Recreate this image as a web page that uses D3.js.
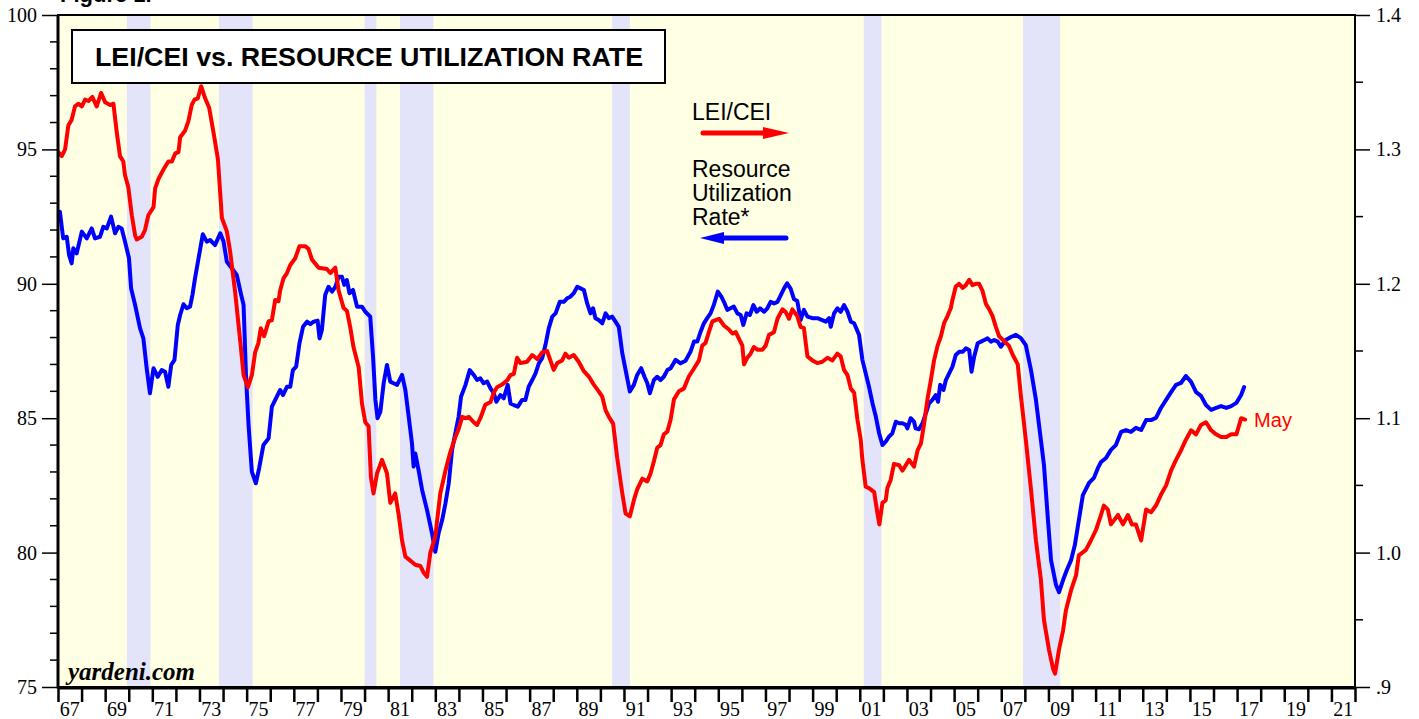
<!DOCTYPE html>
<html><head><meta charset="utf-8">
<script src="https://cdn.jsdelivr.net/npm/d3@7"></script>
<style>html,body{margin:0;padding:0;background:#fff;}svg{display:block;}</style>
</head><body>
<script>
// ---------- DATA ----------
const titleText = "LEI/CEI vs. RESOURCE UTILIZATION RATE";
const yearDomain = [1967, 2022];
const yearLabels = ["67","69","71","73","75","77","79","81","83","85","87","89","91","93","95","97","99","01","03","05","07","09","11","13","15","17","19","21"];
const leftTicks = [75, 80, 85, 90, 95, 100];
const rightTicks = [0.9, 1.0, 1.1, 1.2, 1.3, 1.4];
const rightTickLabels = [".9", "1.0", "1.1", "1.2", "1.3", "1.4"];
const recessions = [[1969.92,1970.92],[1973.83,1975.25],[1980.0,1980.5],[1981.5,1982.92],[1990.5,1991.25],[2001.17,2001.92],[2007.92,2009.5]];

// LEI/CEI ratio (right axis)
const leiSeries = [[1967.01,1.298],[1967.16,1.295],[1967.30,1.300],[1967.44,1.318],[1967.58,1.322],[1967.72,1.332],[1967.86,1.334],[1968.01,1.332],[1968.15,1.337],[1968.29,1.336],[1968.46,1.339],[1968.64,1.332],[1968.83,1.342],[1969.00,1.335],[1969.21,1.333],[1969.35,1.334],[1969.49,1.313],[1969.63,1.295],[1969.77,1.291],[1969.84,1.281],[1969.98,1.272],[1970.13,1.251],[1970.27,1.236],[1970.34,1.233],[1970.55,1.235],[1970.69,1.240],[1970.83,1.251],[1971.05,1.257],[1971.12,1.271],[1971.26,1.278],[1971.47,1.285],[1971.68,1.291],[1971.83,1.291],[1971.97,1.297],[1972.11,1.298],[1972.18,1.309],[1972.39,1.314],[1972.53,1.321],[1972.67,1.333],[1972.79,1.337],[1972.93,1.338],[1973.07,1.347],[1973.24,1.338],[1973.41,1.331],[1973.59,1.313],[1973.78,1.293],[1973.95,1.249],[1974.16,1.239],[1974.30,1.224],[1974.51,1.194],[1974.73,1.157],[1974.87,1.132],[1975.05,1.123],[1975.22,1.132],[1975.36,1.149],[1975.50,1.156],[1975.60,1.167],[1975.74,1.161],[1975.93,1.172],[1976.07,1.173],[1976.21,1.188],[1976.35,1.187],[1976.42,1.195],[1976.56,1.204],[1976.71,1.208],[1976.85,1.214],[1977.06,1.219],[1977.24,1.228],[1977.48,1.228],[1977.62,1.226],[1977.77,1.218],[1977.91,1.215],[1978.05,1.212],[1978.40,1.211],[1978.55,1.208],[1978.76,1.212],[1978.90,1.195],[1979.11,1.182],[1979.25,1.180],[1979.39,1.168],[1979.53,1.153],[1979.75,1.138],[1979.89,1.111],[1980.03,1.097],[1980.17,1.094],[1980.27,1.056],[1980.38,1.044],[1980.53,1.059],[1980.74,1.069],[1980.95,1.059],[1981.09,1.037],[1981.30,1.044],[1981.44,1.029],[1981.59,1.009],[1981.73,0.997],[1981.94,0.994],[1982.15,0.991],[1982.37,0.990],[1982.51,0.985],[1982.65,0.982],[1982.79,1.000],[1983.00,1.012],[1983.21,1.044],[1983.43,1.061],[1983.64,1.075],[1983.85,1.086],[1983.99,1.092],[1984.14,1.101],[1984.28,1.100],[1984.42,1.101],[1984.63,1.097],[1984.77,1.095],[1984.91,1.100],[1985.12,1.110],[1985.34,1.112],[1985.48,1.119],[1985.62,1.123],[1985.83,1.125],[1986.04,1.128],[1986.19,1.132],[1986.33,1.133],[1986.47,1.145],[1986.61,1.141],[1986.89,1.142],[1987.11,1.147],[1987.32,1.144],[1987.53,1.149],[1987.74,1.150],[1987.88,1.143],[1988.02,1.136],[1988.17,1.141],[1988.38,1.143],[1988.52,1.148],[1988.66,1.145],[1988.87,1.147],[1989.08,1.142],[1989.30,1.135],[1989.51,1.131],[1989.72,1.125],[1989.93,1.120],[1990.08,1.116],[1990.22,1.106],[1990.36,1.101],[1990.54,1.096],[1990.71,1.071],[1990.93,1.044],[1991.07,1.029],[1991.25,1.027],[1991.42,1.039],[1991.56,1.047],[1991.78,1.055],[1991.99,1.053],[1992.13,1.059],[1992.27,1.068],[1992.41,1.078],[1992.55,1.080],[1992.69,1.088],[1992.84,1.090],[1992.98,1.099],[1993.12,1.114],[1993.33,1.120],[1993.54,1.122],[1993.75,1.131],[1993.97,1.137],[1994.18,1.143],[1994.32,1.154],[1994.46,1.156],[1994.60,1.164],[1994.75,1.172],[1994.89,1.173],[1995.03,1.174],[1995.24,1.169],[1995.45,1.166],[1995.60,1.163],[1995.74,1.164],[1995.88,1.159],[1996.02,1.154],[1996.09,1.140],[1996.23,1.145],[1996.37,1.148],[1996.51,1.153],[1996.66,1.151],[1996.87,1.151],[1997.01,1.154],[1997.15,1.162],[1997.36,1.164],[1997.51,1.174],[1997.72,1.181],[1997.86,1.179],[1998.00,1.174],[1998.14,1.181],[1998.35,1.176],[1998.49,1.168],[1998.63,1.167],[1998.78,1.146],[1998.99,1.143],[1999.20,1.141],[1999.41,1.142],[1999.63,1.145],[1999.84,1.143],[2000.05,1.148],[2000.19,1.146],[2000.33,1.136],[2000.48,1.132],[2000.62,1.122],[2000.76,1.119],[2000.90,1.099],[2001.04,1.084],[2001.11,1.069],[2001.25,1.049],[2001.39,1.048],[2001.61,1.045],[2001.75,1.029],[2001.83,1.021],[2001.96,1.037],[2002.10,1.039],[2002.17,1.048],[2002.31,1.054],[2002.45,1.066],[2002.67,1.065],[2002.81,1.061],[2002.95,1.065],[2003.09,1.069],[2003.30,1.064],[2003.45,1.076],[2003.59,1.081],[2003.73,1.096],[2003.87,1.114],[2004.01,1.128],[2004.15,1.143],[2004.30,1.154],[2004.44,1.161],[2004.58,1.171],[2004.72,1.176],[2004.86,1.182],[2004.93,1.188],[2005.07,1.198],[2005.21,1.200],[2005.36,1.197],[2005.50,1.199],[2005.64,1.203],[2005.78,1.199],[2005.92,1.200],[2006.06,1.200],[2006.20,1.195],[2006.35,1.185],[2006.49,1.181],[2006.63,1.176],[2006.77,1.168],[2006.91,1.161],[2007.32,1.154],[2007.49,1.147],[2007.70,1.140],[2007.83,1.117],[2008.04,1.084],[2008.26,1.047],[2008.47,1.009],[2008.68,0.980],[2008.81,0.950],[2009.02,0.928],[2009.19,0.914],[2009.28,0.910],[2009.45,0.928],[2009.62,0.942],[2009.74,0.957],[2009.96,0.972],[2010.17,0.983],[2010.29,0.998],[2010.59,1.002],[2010.80,1.009],[2011.02,1.017],[2011.23,1.028],[2011.35,1.035],[2011.52,1.032],[2011.65,1.021],[2011.78,1.024],[2011.95,1.028],[2012.16,1.021],[2012.37,1.028],[2012.54,1.021],[2012.71,1.021],[2012.93,1.009],[2013.14,1.032],[2013.35,1.030],[2013.56,1.035],[2013.77,1.043],[2013.99,1.050],[2014.20,1.061],[2014.41,1.069],[2014.62,1.076],[2014.83,1.084],[2015.05,1.091],[2015.26,1.088],[2015.47,1.095],[2015.68,1.097],[2015.90,1.091],[2016.11,1.088],[2016.32,1.086],[2016.54,1.086],[2016.75,1.088],[2016.97,1.088],[2017.09,1.095],[2017.17,1.100],[2017.34,1.099]];

// Resource utilization rate (left axis)
const rurSeries = [[1967.08,92.68],[1967.22,91.69],[1967.37,91.75],[1967.47,91.07],[1967.58,90.76],[1967.65,91.32],[1967.79,91.13],[1968.01,91.94],[1968.22,91.69],[1968.43,92.06],[1968.57,91.69],[1968.78,91.75],[1968.92,92.12],[1969.07,92.06],[1969.25,92.50],[1969.42,91.88],[1969.56,92.12],[1969.70,92.06],[1969.84,91.57],[1970.01,90.95],[1970.10,89.83],[1970.27,89.21],[1970.48,88.34],[1970.62,87.97],[1970.76,86.86],[1970.90,85.93],[1971.05,86.86],[1971.23,86.54],[1971.40,86.79],[1971.54,86.73],[1971.68,86.17],[1971.80,86.98],[1971.94,87.17],[1972.08,88.47],[1972.18,88.84],[1972.32,89.24],[1972.46,89.09],[1972.60,89.15],[1972.70,89.58],[1972.81,90.20],[1972.96,90.95],[1973.14,91.84],[1973.31,91.57],[1973.45,91.63],[1973.66,91.44],[1973.88,91.88],[1974.02,91.57],[1974.16,90.82],[1974.37,90.58],[1974.58,90.33],[1974.77,89.58],[1974.87,89.21],[1974.97,86.61],[1975.08,84.75],[1975.22,83.01],[1975.39,82.58],[1975.53,83.14],[1975.71,84.00],[1975.93,84.25],[1976.07,85.43],[1976.28,85.80],[1976.42,86.05],[1976.54,85.86],[1976.71,86.17],[1976.85,86.17],[1976.96,86.79],[1977.10,86.92],[1977.24,87.79],[1977.39,88.40],[1977.56,88.59],[1977.70,88.50],[1977.84,88.59],[1978.01,88.63],[1978.09,87.97],[1978.19,88.28],[1978.33,89.58],[1978.47,89.89],[1978.62,89.71],[1978.76,89.89],[1978.90,90.26],[1979.04,90.26],[1979.14,89.96],[1979.25,90.14],[1979.36,89.65],[1979.51,89.77],[1979.68,89.15],[1979.89,89.15],[1980.03,88.96],[1980.24,88.78],[1980.36,87.29],[1980.46,85.68],[1980.55,85.00],[1980.67,85.24],[1980.81,86.30],[1980.95,86.98],[1981.09,86.36],[1981.23,86.30],[1981.38,86.24],[1981.59,86.61],[1981.73,86.05],[1981.87,85.06],[1982.01,84.07],[1982.08,83.20],[1982.15,83.69],[1982.29,83.07],[1982.44,82.33],[1982.65,81.58],[1982.86,80.72],[1983.00,80.03],[1983.14,80.72],[1983.29,81.21],[1983.43,81.83],[1983.57,82.58],[1983.71,83.82],[1983.85,84.44],[1983.99,85.06],[1984.09,85.80],[1984.28,86.24],[1984.46,86.79],[1984.63,86.61],[1984.77,86.42],[1984.91,86.48],[1985.05,86.30],[1985.20,86.36],[1985.34,86.11],[1985.48,85.93],[1985.59,85.61],[1985.76,85.86],[1985.90,85.74],[1986.07,86.24],[1986.19,85.55],[1986.33,85.49],[1986.50,85.43],[1986.68,85.68],[1986.82,85.68],[1986.96,86.17],[1987.11,86.42],[1987.25,86.67],[1987.39,87.04],[1987.53,87.23],[1987.67,87.72],[1987.81,88.34],[1987.96,88.78],[1988.10,88.90],[1988.28,89.33],[1988.45,89.33],[1988.59,89.46],[1988.73,89.52],[1988.87,89.65],[1989.02,89.89],[1989.16,89.83],[1989.30,89.77],[1989.44,89.27],[1989.58,88.90],[1989.69,89.09],[1989.79,88.72],[1989.93,88.65],[1990.08,88.53],[1990.22,88.90],[1990.36,88.72],[1990.50,88.78],[1990.64,88.59],[1990.78,88.40],[1990.93,87.41],[1991.07,86.79],[1991.25,85.99],[1991.42,86.24],[1991.56,86.61],[1991.73,86.86],[1991.87,86.54],[1991.99,86.30],[1992.10,85.93],[1992.27,86.42],[1992.41,86.54],[1992.55,86.42],[1992.69,86.54],[1992.84,86.79],[1992.98,86.86],[1993.19,87.17],[1993.40,87.04],[1993.61,87.14],[1993.82,87.47],[1993.97,87.85],[1994.11,87.85],[1994.25,88.22],[1994.39,88.53],[1994.53,88.72],[1994.67,88.90],[1994.81,89.21],[1994.98,89.71],[1995.13,89.52],[1995.27,89.27],[1995.38,89.03],[1995.52,89.09],[1995.66,89.15],[1995.81,88.90],[1995.95,88.84],[1996.06,88.47],[1996.20,88.90],[1996.34,88.84],[1996.49,89.21],[1996.63,88.96],[1996.77,89.09],[1996.94,88.96],[1997.08,89.09],[1997.22,89.33],[1997.36,89.27],[1997.51,89.33],[1997.65,89.58],[1997.79,89.83],[1997.92,90.02],[1998.07,89.81],[1998.21,89.43],[1998.35,89.36],[1998.49,88.65],[1998.63,89.03],[1998.78,88.78],[1998.99,88.72],[1999.20,88.72],[1999.41,88.65],[1999.56,88.59],[1999.70,88.72],[1999.77,88.40],[1999.91,88.90],[2000.05,89.09],[2000.19,88.96],[2000.33,89.21],[2000.48,88.96],[2000.62,88.59],[2000.76,88.53],[2000.97,88.10],[2001.11,87.17],[2001.25,86.67],[2001.39,86.17],[2001.54,85.55],[2001.68,85.06],[2001.82,84.44],[2001.96,84.00],[2002.10,84.13],[2002.24,84.31],[2002.38,84.44],[2002.53,84.87],[2002.67,84.81],[2002.81,84.81],[2002.95,84.75],[2003.02,84.62],[2003.16,85.00],[2003.30,84.87],[2003.37,84.62],[2003.51,84.59],[2003.66,84.81],[2003.80,85.18],[2003.94,85.55],[2004.08,85.68],[2004.22,85.86],[2004.32,85.61],[2004.41,86.24],[2004.55,86.05],[2004.65,86.42],[2004.79,86.67],[2004.93,86.92],[2005.07,87.35],[2005.21,87.47],[2005.36,87.47],[2005.50,87.60],[2005.64,87.54],[2005.74,86.73],[2005.85,87.29],[2006.00,87.79],[2006.14,87.85],[2006.28,87.91],[2006.42,87.97],[2006.56,87.85],[2006.70,87.91],[2006.85,87.85],[2006.98,87.66],[2007.19,87.91],[2007.41,88.02],[2007.62,88.10],[2007.83,87.98],[2008.04,87.72],[2008.26,86.79],[2008.47,85.68],[2008.68,84.19],[2008.81,83.26],[2008.98,81.21],[2009.11,79.72],[2009.32,78.80],[2009.45,78.53],[2009.62,78.98],[2009.78,79.35],[2009.96,79.72],[2010.12,80.28],[2010.29,81.21],[2010.46,82.14],[2010.72,82.59],[2010.93,82.78],[2011.10,83.15],[2011.23,83.37],[2011.44,83.52],[2011.65,83.82],[2011.86,84.00],[2012.08,84.49],[2012.29,84.56],[2012.50,84.49],[2012.71,84.64],[2012.93,84.56],[2013.14,84.93],[2013.35,84.93],[2013.56,85.01],[2013.77,85.38],[2013.99,85.68],[2014.20,85.97],[2014.41,86.24],[2014.62,86.31],[2014.83,86.57],[2015.05,86.35],[2015.26,85.97],[2015.47,85.83],[2015.68,85.49],[2015.90,85.31],[2016.11,85.38],[2016.32,85.45],[2016.54,85.38],[2016.75,85.45],[2016.97,85.57],[2017.17,85.86],[2017.30,86.16]];

// ---------- LAYOUT ----------
const W = 1419, H = 719;
const M = {left: 58, right: 1355, top: 15, bottom: 687};
const svg = d3.select("body").append("svg").attr("width", W).attr("height", H);
svg.append("rect").attr("width", W).attr("height", H).attr("fill", "#fff");

const x = d3.scaleLinear().domain(yearDomain).range([M.left, M.right]);
const yL = d3.scaleLinear().domain([75, 100]).range([M.bottom, M.top]);
const yR = d3.scaleLinear().domain([0.9, 1.4]).range([M.bottom, M.top]);

// background
svg.append("rect").attr("x", M.left).attr("y", M.top)
  .attr("width", M.right - M.left).attr("height", M.bottom - M.top).attr("fill", "#FFFFE3");
svg.append("g").selectAll("rect").data(recessions).join("rect")
  .attr("x", d => x(d[0])).attr("y", M.top)
  .attr("width", d => x(d[1]) - x(d[0])).attr("height", M.bottom - M.top)
  .attr("fill", "#E3E3FA");

svg.append("defs").append("clipPath").attr("id", "clip")
  .append("rect").attr("x", M.left).attr("y", M.top)
  .attr("width", M.right - M.left).attr("height", M.bottom - M.top);

// lines
const lineL = d3.line().x(d => x(d[0])).y(d => yL(d[1]));
const lineR = d3.line().x(d => x(d[0])).y(d => yR(d[1]));
const gl = svg.append("g").attr("clip-path", "url(#clip)");
gl.append("path").datum(rurSeries).attr("d", lineL).attr("fill", "none")
  .attr("stroke", "#0000FF").attr("stroke-width", 4).attr("stroke-linejoin", "round").attr("stroke-linecap", "round");
gl.append("path").datum(leiSeries).attr("d", lineR).attr("fill", "none")
  .attr("stroke", "#FF0000").attr("stroke-width", 4).attr("stroke-linejoin", "round").attr("stroke-linecap", "round");

// frame
svg.append("rect").attr("x", M.left).attr("y", M.top)
  .attr("width", M.right - M.left).attr("height", M.bottom - M.top)
  .attr("fill", "none").attr("stroke", "#000").attr("stroke-width", 2);
svg.append("line").attr("x1", M.left).attr("x2", M.left).attr("y1", M.top).attr("y2", M.bottom + 1.5)
  .attr("stroke", "#000").attr("stroke-width", 3);
svg.append("line").attr("x1", M.left).attr("x2", M.right + 1).attr("y1", M.bottom + 1).attr("y2", M.bottom + 1)
  .attr("stroke", "#000").attr("stroke-width", 3);

const serif = "'Liberation Serif', 'Times New Roman', serif";
const sans = "'Liberation Sans', Arial, Helvetica, sans-serif";

// left axis
const leftAxis = d3.axisLeft(yL).tickValues(leftTicks).tickSize(16).tickPadding(5).tickFormat(d3.format("d"));
const gL = svg.append("g").attr("transform", `translate(${M.left},0)`).call(leftAxis);
gL.select(".domain").remove();
gL.selectAll(".tick line").attr("stroke", "#000").attr("stroke-width", 1.5);
gL.selectAll(".tick text").attr("font-family", serif).attr("font-size", 20).attr("fill", "#000");
const leftMinor = d3.range(75, 101, 1).filter(v => v % 5 !== 0);
svg.append("g").selectAll("line").data(leftMinor).join("line")
  .attr("x1", M.left - 8).attr("x2", M.left).attr("y1", d => yL(d)).attr("y2", d => yL(d))
  .attr("stroke", "#000").attr("stroke-width", 1.5);

// right axis
const rightAxis = d3.axisRight(yR).tickValues(rightTicks).tickSize(15).tickPadding(6)
  .tickFormat((d, i) => rightTickLabels[i]);
const gR = svg.append("g").attr("transform", `translate(${M.right},0)`).call(rightAxis);
gR.select(".domain").remove();
gR.selectAll(".tick line").attr("stroke", "#000").attr("stroke-width", 1.5);
gR.selectAll(".tick text").attr("font-family", serif).attr("font-size", 20).attr("fill", "#000");
const rightMinor = [0.95, 1.05, 1.15, 1.25, 1.35];
svg.append("g").selectAll("line").data(rightMinor).join("line")
  .attr("x1", M.right).attr("x2", M.right + 8).attr("y1", d => yR(d)).attr("y2", d => yR(d))
  .attr("stroke", "#000").attr("stroke-width", 1.5);

// bottom axis
const yearTicks = d3.range(yearDomain[0], yearDomain[1] + 1);
const bottomAxis = d3.axisBottom(x).tickValues(yearTicks).tickSize(14).tickFormat("");
const gB = svg.append("g").attr("transform", `translate(0,${M.bottom + 1})`).call(bottomAxis);
gB.select(".domain").remove();
gB.selectAll(".tick line").attr("stroke", "#000").attr("stroke-width", 2.5);
svg.append("g").selectAll("text").data(yearLabels).join("text")
  .attr("x", (d, i) => x(yearDomain[0] + 2 * i + 0.5)).attr("y", 716)
  .attr("text-anchor", "middle").attr("font-family", serif).attr("font-size", 20).attr("fill", "#000")
  .text(d => d);

// top cut-off caption (cut off in the original too)
svg.append("text").attr("x", 60).attr("y", 2).attr("font-family", sans).attr("font-weight", "bold")
  .attr("font-size", 22).text("Figure 1.");

// title box
svg.append("rect").attr("x", 72).attr("y", 30).attr("width", 593).attr("height", 53)
  .attr("fill", "#fff").attr("stroke", "#000").attr("stroke-width", 2);
svg.append("text").attr("x", 95).attr("y", 66).attr("font-family", sans).attr("font-weight", "bold")
  .attr("font-size", 26).attr("textLength", 548).attr("lengthAdjust", "spacingAndGlyphs")
  .attr("fill", "#000").text(titleText);

// legend
svg.append("text").attr("x", 692).attr("y", 120).attr("font-family", sans).attr("font-size", 23).text("LEI/CEI");
const leg2 = svg.append("text").attr("font-family", sans).attr("font-size", 23);
["Resource", "Utilization", "Rate*"].forEach((t, i) => {
  leg2.append("tspan").attr("x", 692).attr("y", 177 + i * 24).text(t);
});
// red arrow (right)
svg.append("line").attr("x1", 703).attr("x2", 770).attr("y1", 133).attr("y2", 133)
  .attr("stroke", "#FF0000").attr("stroke-width", 5).attr("stroke-linecap", "round");
svg.append("path").attr("d", "M763,127 L789,133 L763,139 Z").attr("fill", "#FF0000");
// blue arrow (left)
svg.append("line").attr("x1", 718).attr("x2", 786).attr("y1", 238).attr("y2", 238)
  .attr("stroke", "#0000FF").attr("stroke-width", 5).attr("stroke-linecap", "round");
svg.append("path").attr("d", "M724,232 L700,238 L724,244 Z").attr("fill", "#0000FF");

// end label
const last = leiSeries[leiSeries.length - 1];
svg.append("text").attr("x", x(last[0]) + 9).attr("y", yR(last[1]) + 7)
  .attr("font-family", sans).attr("font-size", 20).attr("fill", "#FF0000").text("May");

// watermark
svg.append("text").attr("x", 68).attr("y", 680).attr("font-family", serif).attr("font-style", "italic")
  .attr("font-weight", "bold").attr("font-size", 25).attr("fill", "#000").text("yardeni.com");
</script>
</body></html>
